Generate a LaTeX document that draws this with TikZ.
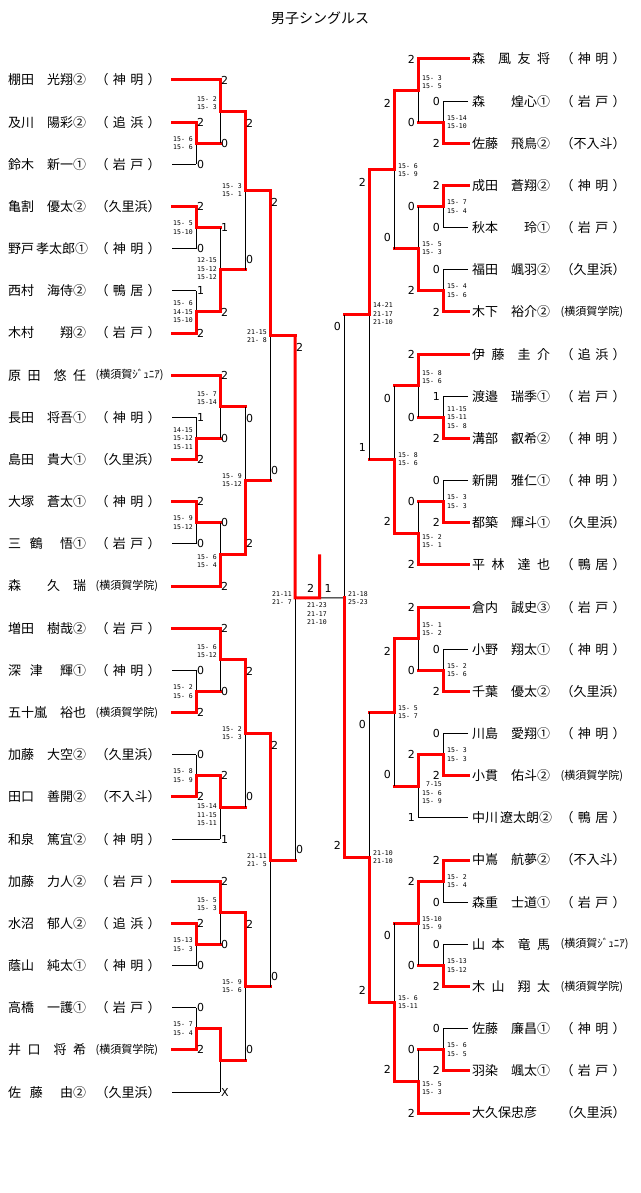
\documentclass[tikz,border=0pt]{standalone}
\usepackage{fontspec}
\setmainfont{Noto Sans CJK JP}
\newfontfamily\numfont{DejaVu Sans}
\newfontfamily\gamefont{DejaVu Sans Mono}
\usetikzlibrary{calc}
\usetikzlibrary{positioning}
\newcommand{\namebox}[1]{\makebox[78pt][s]{\ignorespaces#1\unskip}}
\newcommand{\clubbox}[1]{\makebox[65pt][s]{\ignorespaces#1\unskip}}
\newcommand{\smallclub}{\fontsize{11}{12}\selectfont}
% bout: column, next column, top entry, bottom entry, result
\newcommand{\wintop}[5]{%
  \coordinate (#5) at ($(#3 -| #1)!0.5!(#4 -| #1)$);
  \draw[lost] (#5) -- (#4 -| #1);
  \draw[won] (#3 -| #1) -- (#5) -- (#5 -| #2);
}
\newcommand{\winbot}[5]{%
  \coordinate (#5) at ($(#3 -| #1)!0.5!(#4 -| #1)$);
  \draw[lost] (#5) -- (#3 -| #1);
  \draw[won] (#4 -| #1) -- (#5) -- (#5 -| #2);
}
\tikzset{
  won/.style={red, line width=3pt, line cap=rect},
  lost/.style={black, line width=1pt},
  pname/.style={anchor=west, inner sep=0pt, font=\fontsize{13}{15}\selectfont},
  titletxt/.style={inner sep=0pt, font=\fontsize{14}{16}\selectfont},
  res/.style={inner sep=0pt, font=\numfont\fontsize{11}{12}\selectfont},
  games/.style={inner sep=0pt, align=right, font=\gamefont\fontsize{6.5}{8.5}\selectfont},
}

\begin{document}
\begin{tikzpicture}[x=1pt,y=-1pt]
  \useasboundingbox (0,0) rectangle (640,1193);

  % Define nodes
  \node[titletxt] (title) at (320,18) {男子シングルス};

  \coordinate (L1) at (196,0);
  \coordinate (L2) at (220,0);
  \coordinate (L3) at (245,0);
  \coordinate (L4) at (270,0);
  \coordinate (L5) at (295,0);
  \coordinate (R1) at (443,0);
  \coordinate (R2) at (418,0);
  \coordinate (R3) at (394,0);
  \coordinate (R4) at (369,0);
  \coordinate (R5) at (344,0);

  \foreach \nm/\cl [count=\i from 0] in {%
棚田 光翔②/（ 神 明 ）,%
及川 陽彩②/（ 追 浜 ）,%
鈴木 新一①/（ 岩 戸 ）,%
亀割 優太②/（久里浜）,%
野戸 孝太郎①/（ 神 明 ）,%
西村 海侍②/（ 鴨 居 ）,%
木村 翔②/（ 岩 戸 ）,%
原 田~ 悠 任/{\smallclub (横須賀ｼﾞｭﾆｱ)},%
長田 将吾①/（ 神 明 ）,%
島田 貴大①/（久里浜）,%
大塚 蒼太①/（ 神 明 ）,%
三 鶴~ 悟①/（ 岩 戸 ）,%
森~ 久 瑞/{\smallclub (横須賀学院)},%
増田 樹哉②/（ 岩 戸 ）,%
深 津~ 輝①/（ 神 明 ）,%
五十嵐 裕也/{\smallclub (横須賀学院)},%
加藤 大空②/（久里浜）,%
田口 善開②/（不入斗）,%
和泉 篤宜②/（ 神 明 ）,%
加藤 力人②/（ 岩 戸 ）,%
水沼 郁人②/（ 追 浜 ）,%
蔭山 純太①/（ 神 明 ）,%
高橋 一護①/（ 岩 戸 ）,%
井 口~ 将 希/{\smallclub (横須賀学院)},%
佐 藤~ 由②/（久里浜）}{
    \coordinate (lp\i) at (172,{80+42.17*\i});
    \node[pname] (lname\i) at (8,{80+42.17*\i}) {\namebox{\nm}};
    \node[pname, right=9pt of lname\i] (lclub\i) {\clubbox{\cl}};
  }

  \foreach \nm/\cl [count=\i from 0] in {%
森~ 風 友 将/（ 神 明 ）,%
森~ 煌心①/（ 岩 戸 ）,%
佐藤 飛鳥②/（不入斗）,%
成田 蒼翔②/（ 神 明 ）,%
秋本 玲①/（ 岩 戸 ）,%
福田 颯羽②/（久里浜）,%
木下 裕介②/{\smallclub (横須賀学院)},%
伊 藤~ 圭 介/（ 追 浜 ）,%
渡邉 瑞季①/（ 岩 戸 ）,%
溝部 叡希②/（ 神 明 ）,%
新開 雅仁①/（ 神 明 ）,%
都築 輝斗①/（久里浜）,%
平 林~ 達 也/（ 鴨 居 ）,%
倉内 誠史③/（ 岩 戸 ）,%
小野 翔太①/（ 神 明 ）,%
千葉 優太②/（久里浜）,%
川島 愛翔①/（ 神 明 ）,%
小貫 佑斗②/{\smallclub (横須賀学院)},%
中川 遼太朗②/（ 鴨 居 ）,%
中嶌 航夢②/（不入斗）,%
森重 士道①/（ 岩 戸 ）,%
山 本~ 竜 馬/{\smallclub (横須賀ｼﾞｭﾆｱ)},%
木 山~ 翔 太/{\smallclub (横須賀学院)},%
佐藤 廉昌①/（ 神 明 ）,%
羽染 颯太①/（ 岩 戸 ）,%
大久保忠彦/（久里浜）}{
    \coordinate (rp\i) at (468,{59+42.16*\i});
    \node[pname] (rname\i) at (472,{59+42.16*\i}) {\namebox{\nm}};
    \node[pname, right=10pt of rname\i] (rclub\i) {\clubbox{\cl}};
  }

  % Connect nodes
  \foreach \i/\c/\s in {%
0/L2/won,1/L1/won,2/L1/lost,3/L1/won,4/L1/lost,5/L1/lost,6/L1/won,%
7/L2/won,8/L1/lost,9/L1/won,10/L1/won,11/L1/lost,12/L2/won,%
13/L2/won,14/L1/lost,15/L1/won,16/L1/lost,17/L1/won,18/L2/lost,%
19/L2/won,20/L1/won,21/L1/lost,22/L1/lost,23/L1/won,24/L2/lost}
    \draw[\s] (lp\i) -- (lp\i -| \c);

  \foreach \i/\c/\s in {%
0/R2/won,1/R1/lost,2/R1/won,3/R1/won,4/R1/lost,5/R1/lost,6/R1/won,%
7/R2/won,8/R1/lost,9/R1/won,10/R1/lost,11/R1/won,12/R2/won,%
13/R2/won,14/R1/lost,15/R1/won,16/R1/lost,17/R1/won,18/R2/lost,%
19/R1/won,20/R1/lost,21/R1/lost,22/R1/won,23/R1/lost,24/R1/won,25/R2/won}
    \draw[\s] (rp\i) -- (rp\i -| \c);

  % left half
  \wintop{L1}{L2}{lp1}{lp2}{la1}
  \wintop{L1}{L2}{lp3}{lp4}{la2}
  \winbot{L1}{L2}{lp5}{lp6}{la3}
  \winbot{L1}{L2}{lp8}{lp9}{lb1}
  \wintop{L1}{L2}{lp10}{lp11}{lb2}
  \winbot{L1}{L2}{lp14}{lp15}{lc1}
  \winbot{L1}{L2}{lp16}{lp17}{lc2}
  \wintop{L1}{L2}{lp20}{lp21}{ld1}
  \winbot{L1}{L2}{lp22}{lp23}{ld2}
  \wintop{L2}{L3}{lp0}{la1}{la4}
  \winbot{L2}{L3}{la2}{la3}{la5}
  \wintop{L2}{L3}{lp7}{lb1}{lb3}
  \winbot{L2}{L3}{lb2}{lp12}{lb4}
  \wintop{L2}{L3}{lp13}{lc1}{lc3}
  \wintop{L2}{L3}{lc2}{lp18}{lc4}
  \wintop{L2}{L3}{lp19}{ld1}{ld3}
  \wintop{L2}{L3}{ld2}{lp24}{ld4}
  \wintop{L3}{L4}{la4}{la5}{la6}
  \winbot{L3}{L4}{lb3}{lb4}{lb5}
  \wintop{L3}{L4}{lc3}{lc4}{lc5}
  \wintop{L3}{L4}{ld3}{ld4}{ld5}
  \wintop{L4}{L5}{la6}{lb5}{lab}
  \wintop{L4}{L5}{lc5}{ld5}{lcd}

  % right half
  \winbot{R1}{R2}{rp1}{rp2}{ra1}
  \wintop{R1}{R2}{rp3}{rp4}{ra2}
  \winbot{R1}{R2}{rp5}{rp6}{ra3}
  \winbot{R1}{R2}{rp8}{rp9}{rb1}
  \winbot{R1}{R2}{rp10}{rp11}{rb2}
  \winbot{R1}{R2}{rp14}{rp15}{rc1}
  \winbot{R1}{R2}{rp16}{rp17}{rc2}
  \wintop{R1}{R2}{rp19}{rp20}{rd1}
  \winbot{R1}{R2}{rp21}{rp22}{rd2}
  \winbot{R1}{R2}{rp23}{rp24}{rd3}
  \wintop{R2}{R3}{rp0}{ra1}{ra4}
  \winbot{R2}{R3}{ra2}{ra3}{ra5}
  \wintop{R2}{R3}{rp7}{rb1}{rb3}
  \winbot{R2}{R3}{rb2}{rp12}{rb4}
  \wintop{R2}{R3}{rp13}{rc1}{rc3}
  \wintop{R2}{R3}{rc2}{rp18}{rc4}
  \wintop{R2}{R3}{rd1}{rd2}{rd4}
  \winbot{R2}{R3}{rd3}{rp25}{rd5}
  \wintop{R3}{R4}{ra4}{ra5}{ra6}
  \winbot{R3}{R4}{rb3}{rb4}{rb5}
  \wintop{R3}{R4}{rc3}{rc4}{rc5}
  \winbot{R3}{R4}{rd4}{rd5}{rd6}
  \wintop{R4}{R5}{ra6}{rb5}{rab}
  \winbot{R4}{R5}{rc5}{rd6}{rcd}

  % semifinals and final
  \coordinate (fl) at ($(lab -| L5)!0.5!(lcd -| L5)$);
  \coordinate (fr) at (fl -| R5);
  \coordinate (fc) at ($(fl)!0.5!(fr)$);
  \coordinate (ftop) at ($(fc)+(0,-42)$);
  \draw[lost] (fl) -- (lcd -| L5);
  \draw[lost] (fr) -- (rab -| R5);
  \draw[lost] (fc) -- (fr);
  \draw[won] (lab -| L5) -- (fl) -- (fc) -- (ftop);
  \draw[won] (rcd -| R5) -- (fr);

  % results
  \foreach \c/\y/\t [count=\k] in {%
L1/122.2/2,L1/164.3/0,L1/206.5/2,L1/248.7/0,L1/290.9/1,L1/333/2,%
L1/417.4/1,L1/459.5/2,L1/501.7/2,L1/543.9/0,L1/670.4/0,L1/712.6/2,%
L1/754.7/0,L1/796.9/2,L1/923.4/2,L1/965.6/0,L1/1007.7/0,L1/1049.9/2,%
L2/80/2,L2/143.3/0,L2/227.6/1,L2/312/2,L2/375.2/2,L2/438.5/0,%
L2/522.8/0,L2/586/2,L2/628.2/2,L2/691.5/0,L2/775.8/2,L2/839.1/1,%
L2/881.2/2,L2/944.5/0,L2/1092.1/X,%
L3/123/2,L3/259/0,L3/418/0,L3/543/2,L3/671/2,L3/796/0,L3/924/2,L3/1049/0,%
L4/202/2,L4/470/0,L4/745/2,L4/976/0,L5/347/2,L5/849/0}
    \node[res, anchor=west] (lres\k) at ($(\c)+(1,\y)$) {\t};

  \foreach \c/\y/\t [count=\k] in {%
R1/101.2/0,R1/143.3/2,R1/185.5/2,R1/227.6/0,R1/269.8/0,R1/312/2,%
R1/396.3/1,R1/438.4/2,R1/480.6/0,R1/522.8/2,R1/649.2/0,R1/691.4/2,%
R1/733.6/0,R1/775.7/2,R1/860/2,R1/902.2/0,R1/944.4/0,R1/986.5/2,%
R1/1028.7/0,R1/1070.8/2,%
R2/59/2,R2/122.3/0,R2/206.5/0,R2/290.9/2,R2/354.1/2,R2/417.4/0,%
R2/501.7/0,R2/564.9/2,R2/607.1/2,R2/670.3/0,R2/754.7/2,R2/817.9/1,%
R2/881.1/2,R2/965.5/0,R2/1049.8/0,R2/1113/2,%
R3/103/2,R3/237/0,R3/398/0,R3/521/2,R3/651/2,R3/774/0,R3/935/0,R3/1069/2,%
R4/182/2,R4/447/1,R4/724/0,R4/990/2,R5/326/0,R5/845/2}
    \node[res, anchor=east] (rres\k) at ($(\c)+(-3,\y)$) {\t};

  \node[res] (fres1) at (310.5,588) {2};
  \node[res] (fres2) at (328,588) {1};

  % game scores
  \foreach \c/\y/\t [count=\k] in {%
L1/143.3/15- 6\\15- 6,%
L1/227.6/15- 5\\15-10,%
L1/312/15- 6\\14-15\\15-10,%
L1/438.5/14-15\\15-12\\15-11,%
L1/522.8/15- 9\\15-12,%
L1/691.5/15- 2\\15- 6,%
L1/775.8/15- 8\\15- 9,%
L1/944.5/15-13\\15- 3,%
L1/1028.8/15- 7\\15- 4,%
L2/103/15- 2\\15- 3,%
L2/269/12-15\\15-12\\15-12,%
L2/398/15- 7\\15-14,%
L2/561/15- 6\\15- 4,%
L2/651/15- 6\\15-12,%
L2/815/15-14\\11-15\\15-11,%
L2/904/15- 5\\15- 3,%
L3/190/15- 3\\15- 1,%
L3/480/15- 9\\15-12,%
L3/733/15- 2\\15- 3,%
L3/986/15- 9\\15- 6,%
L4/336/21-15\\21- 8,%
L4/860/21-11\\21- 5,%
L5/598/21-11\\21- 7}
    \node[games, anchor=east] (lsc\k) at ($(\c)+(-3,\y)$) {\t};

  \foreach \c/\y/\t [count=\k] in {%
R1/122.3/15-14\\15-10,%
R1/206.5/15- 7\\15- 4,%
R1/290.9/15- 4\\15- 6,%
R1/417.4/11-15\\15-11\\15- 8,%
R1/501.7/15- 3\\15- 3,%
R1/670.3/15- 2\\15- 6,%
R1/754.7/15- 3\\15- 3,%
R1/881.1/15- 2\\15- 4,%
R1/965.5/15-13\\15-12,%
R1/1049.8/15- 6\\15- 5,%
R2/82/15- 3\\15- 5,%
R2/248/15- 5\\15- 3,%
R2/377/15- 8\\15- 6,%
R2/541/15- 2\\15- 1,%
R2/629/15- 1\\15- 2,%
R2/793/7-15\\15- 6\\15- 9,%
R2/923/15-10\\15- 9,%
R2/1088/15- 5\\15- 3,%
R3/170/15- 6\\15- 9,%
R3/459/15- 8\\15- 6,%
R3/712/15- 5\\15- 7,%
R3/1002/15- 6\\15-11,%
R4/314/14-21\\21-17\\21-10,%
R4/857/21-10\\21-10,%
R5/598/21-18\\25-23}
    \node[games, anchor=west] (rsc\k) at ($(\c)+(4,\y)$) {\t};

  \node[games, align=center] (fsc) at (317,614) {21-23\\21-17\\21-10};

\end{tikzpicture}
\end{document}
